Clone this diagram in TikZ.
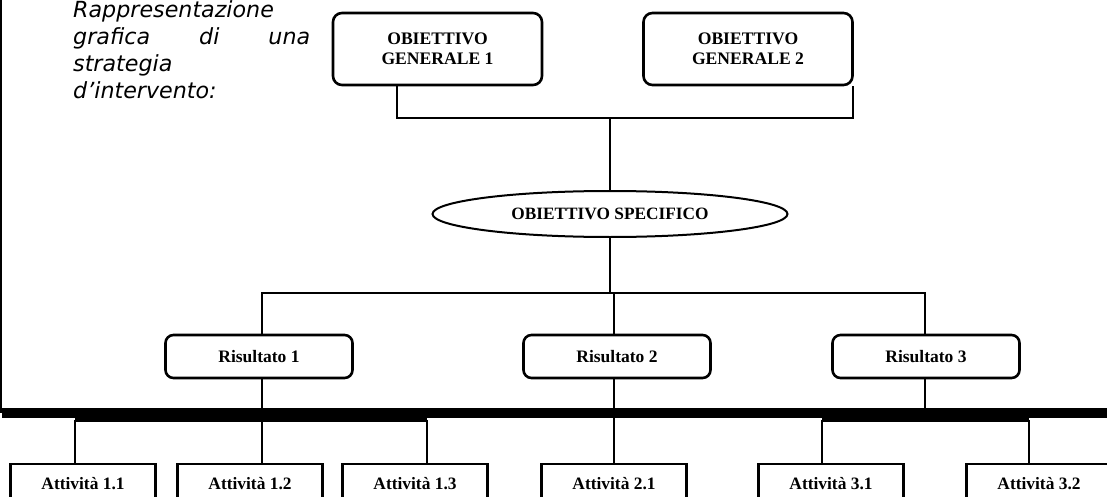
\documentclass[tikz,border=0pt]{standalone}
\usepackage{fontspec}
\setmainfont{Liberation Serif}
\newfontfamily\itsans{DejaVu Sans}
\usetikzlibrary{shapes.geometric}
\tikzset{
  conn/.style={line width=2.5pt},
  genbox/.style={draw, line width=2.6pt, rounded corners=9pt, minimum width=209pt, minimum height=72pt, align=center, inner sep=0pt, font=\bfseries\fontsize{17.6}{20}\selectfont},
  specbox/.style={draw, ellipse, line width=2pt, minimum width=355pt, minimum height=46pt, inner sep=0pt, font=\bfseries\fontsize{17.3}{20}\selectfont},
  resbox/.style={draw, line width=2.6pt, rounded corners=8pt, minimum width=187pt, minimum height=43pt, inner sep=0pt, font=\bfseries\fontsize{17.5}{20}\selectfont},
  actbox/.style={draw, line width=2.6pt, minimum width=145pt, minimum height=40pt, inner sep=0pt, font=\bfseries\fontsize{17.4}{20}\selectfont},
}
\begin{document}
\begin{tikzpicture}[x=1pt,y=-1pt]
\useasboundingbox (0,0) rectangle (1107,497);
\clip (0,0) rectangle (1107,497);
% caption
\node[anchor=north west, inner sep=0pt, text width=237pt, align=left,
      font=\itsans\itshape\fontsize{22.2}{27}\selectfont] (cap) at (73,0)
  {Rappresentazione\\\makebox[237pt][l]{grafica\hfill di\hfill una}\\strategia\\d’intervento:};
% frame
\coordinate (ftop) at (1,0);
\coordinate (fbot) at (1,413);
\draw[line width=2pt] (ftop) -- (fbot);
\coordinate (barL) at (2,412.5);
\coordinate (barR) at (1107,412.5);
\draw[line width=10pt] (barL) -- (barR);
% nodes
\node[genbox] (og1) at (437.5,49) {OBIETTIVO\\GENERALE 1};
\node[genbox] (og2) at (748,49) {OBIETTIVO\\GENERALE 2};
\node[specbox] (os) at (610,214) {OBIETTIVO SPECIFICO};
\node[resbox] (r1) at (259,356.5) {Risultato 1};
\node[resbox] (r2) at (617,356.5) {Risultato 2};
\node[resbox] (r3) at (926,356.5) {Risultato 3};
\node[actbox] (a11) at (83,484) {Attività 1.1};
\node[actbox] (a12) at (250,484) {Attività 1.2};
\node[actbox] (a13) at (415,484) {Attività 1.3};
\node[actbox] (a21) at (614,484) {Attività 2.1};
\node[actbox] (a31) at (831,484) {Attività 3.1};
\node[actbox] (a32) at (1039,484) {Attività 3.2};
% top connectors
\coordinate (s1) at (397,118);
\coordinate (s2) at (853,118);
\coordinate (jg) at (610,118);
\draw[conn] (og1.south -| s1) -- (s1) -- (s2) -- (og2.south -| s2);
\draw[conn] (jg) -- (os.north);
\coordinate (jr) at (612,293);
\draw[conn] (os.south) -- (os.south |- jr);
\coordinate (t1) at (262,293);
\coordinate (t2) at (614,293);
\coordinate (t3) at (925,293);
\draw[conn] (r1.north -| t1) -- (t1) -- (t3) -- (r3.north -| t3);
\draw[conn] (t2) -- (r2.north -| t2);
% results to bar
\coordinate (b1) at (262,412);
\coordinate (b2) at (614,412);
\coordinate (b3) at (925,412);
\draw[conn] (r1.south -| b1) -- (b1);
\draw[conn] (r2.south -| b2) -- (b2);
\draw[conn] (r3.south -| b3) -- (b3);
% activity connectors
\coordinate (h1a) at (75,420);
\coordinate (h1b) at (427,420);
\coordinate (h3a) at (822,420);
\coordinate (h3b) at (1029,420);
\draw[line width=4pt] (h1a) -- (h1b);
\draw[line width=4pt] (h3a) -- (h3b);
\draw[conn] (h1a) -- (a11.north -| h1a);
\draw[conn] (b1) -- (a12.north -| b1);
\draw[conn] (h1b) -- (a13.north -| h1b);
\draw[conn] (b2) -- (a21.north);
\draw[conn] (h3a) -- (a31.north -| h3a);
\draw[conn] (h3b) -- (a32.north -| h3b);
\end{tikzpicture}
\end{document}
